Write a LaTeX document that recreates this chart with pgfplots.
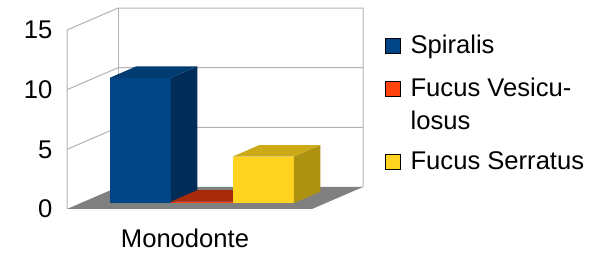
\documentclass[border=0pt]{standalone}
\usepackage{fontspec}
\setmainfont{Liberation Sans}
\usepackage{pgfplots}
\pgfplotsset{compat=1.18}
\definecolor{wallc}{HTML}{B3B3B3}
\definecolor{floorc}{HTML}{808080}
\definecolor{bluF}{HTML}{004586}
\definecolor{bluT}{HTML}{003B72}
\definecolor{bluS}{HTML}{002C57}
\definecolor{redF}{HTML}{FF420E}
\definecolor{redT}{HTML}{A82A0A}
\definecolor{redS}{HTML}{8A2208}
\definecolor{yelF}{HTML}{FFD320}
\definecolor{yelT}{HTML}{CCAA17}
\definecolor{yelS}{HTML}{AD9110}
\pgfplotsset{/pgfplots/table/oblique/.style={x expr=\thisrow{x}+51*\thisrow{d}, y expr=\thisrow{v}+1.8441*\thisrow{d}}}
\newcommand{\bigfont}{\fontsize{25.6}{30}\selectfont}
\begin{document}
\begin{tikzpicture}
\begin{axis}[
  scale only axis, width=522pt, height=209pt,
  xmin=67, xmax=589, ymin=0, ymax=17.519,
  axis line style={draw=none},
  major tick length=0pt,
  ytick={0,5,10,15},
  xtick={185}, xticklabels={Monodonte},
  clip=false,
  ticklabel style={font=\bigfont},
  yticklabel style={xshift=-11pt},
  xticklabel style={inner ysep=0pt, yshift=-19.5pt},
  /pgf/number format/assume math mode=true,
  legend image code/.code={\fill[#1] (0pt,0pt) rectangle (15pt,15pt);},
  legend style={at={(axis cs:385,14.92)}, anchor=north west, draw=none, fill=none,
    font=\bigfont, row sep=0pt, column sep=8pt, inner sep=0pt,
    cells={anchor=base west, inner sep=0pt, text height=20pt}},
]
% walls
\addplot[wallc, line width=1pt, forget plot] table[oblique] {
x d v
67 0 0
67 0 15
67 1 15
312 1 15
312 1 0
};
\addplot[wallc, line width=1pt, forget plot] table[oblique] {
x d v
67 0 10
67 1 10
312 1 10
};
\addplot[wallc, line width=1pt, forget plot] table[oblique] {
x d v
67 0 5
67 1 5
312 1 5
};
\addplot[wallc, line width=1pt, forget plot] table[oblique] {
x d v
67 1 0
67 1 15
};
% floor
\addplot[fill=floorc, draw=none, forget plot] table[oblique] {
x d v
67 0 0
312 0 0
312 1 0
67 1 0
};
% Spiralis
\addplot[fill=bluF, draw=none, forget plot] table[oblique] {
x d v
96 0.27 0
157 0.27 0
157 0.27 10.5
96 0.27 10.5
};
\addplot[fill=bluS, draw=none, forget plot] table[oblique] {
x d v
157 0.27 0
157 0.79 0
157 0.79 10.5
157 0.27 10.5
};
\addplot[fill=bluT, draw=none, forget plot] table[oblique] {
x d v
96 0.27 10.5
157 0.27 10.5
157 0.79 10.5
96 0.79 10.5
};
% Fucus Vesiculosus
\addplot[fill=redF, draw=none, forget plot] table[oblique] {
x d v
157 0.27 0
219 0.27 0
219 0.27 0.12
157 0.27 0.12
};
\addplot[fill=redS, draw=none, forget plot] table[oblique] {
x d v
219 0.27 0
219 0.79 0
219 0.79 0.12
219 0.27 0.12
};
\addplot[fill=redT, draw=none, forget plot] table[oblique] {
x d v
157 0.27 0.12
219 0.27 0.12
219 0.79 0.12
157 0.79 0.12
};
% Fucus Serratus
\addplot[fill=yelF, draw=none, forget plot] table[oblique] {
x d v
219 0.27 0
280 0.27 0
280 0.27 3.9
219 0.27 3.9
};
\addplot[fill=yelS, draw=none, forget plot] table[oblique] {
x d v
280 0.27 0
280 0.79 0
280 0.79 3.9
280 0.27 3.9
};
\addplot[fill=yelT, draw=none, forget plot] table[oblique] {
x d v
219 0.27 3.9
280 0.27 3.9
280 0.79 3.9
219 0.79 3.9
};
\addlegendimage{fill=bluF}
\addlegendentry[text depth=19pt]{Spiralis}
\addlegendimage{fill=redF}
\addlegendentry[text depth=9pt]{Fucus Vesicu-}
\addlegendimage{empty legend}
\addlegendentry[text depth=16pt]{losus}
\addlegendimage{fill=yelF}
\addlegendentry[text depth=5pt]{Fucus Serratus}
\coordinate (BL) at (axis cs:0,-3.772);
\coordinate (TR) at (axis cs:589,17.519);
\end{axis}
\pgfresetboundingbox
\path[use as bounding box] (BL) rectangle (TR);
\end{tikzpicture}
\end{document}
